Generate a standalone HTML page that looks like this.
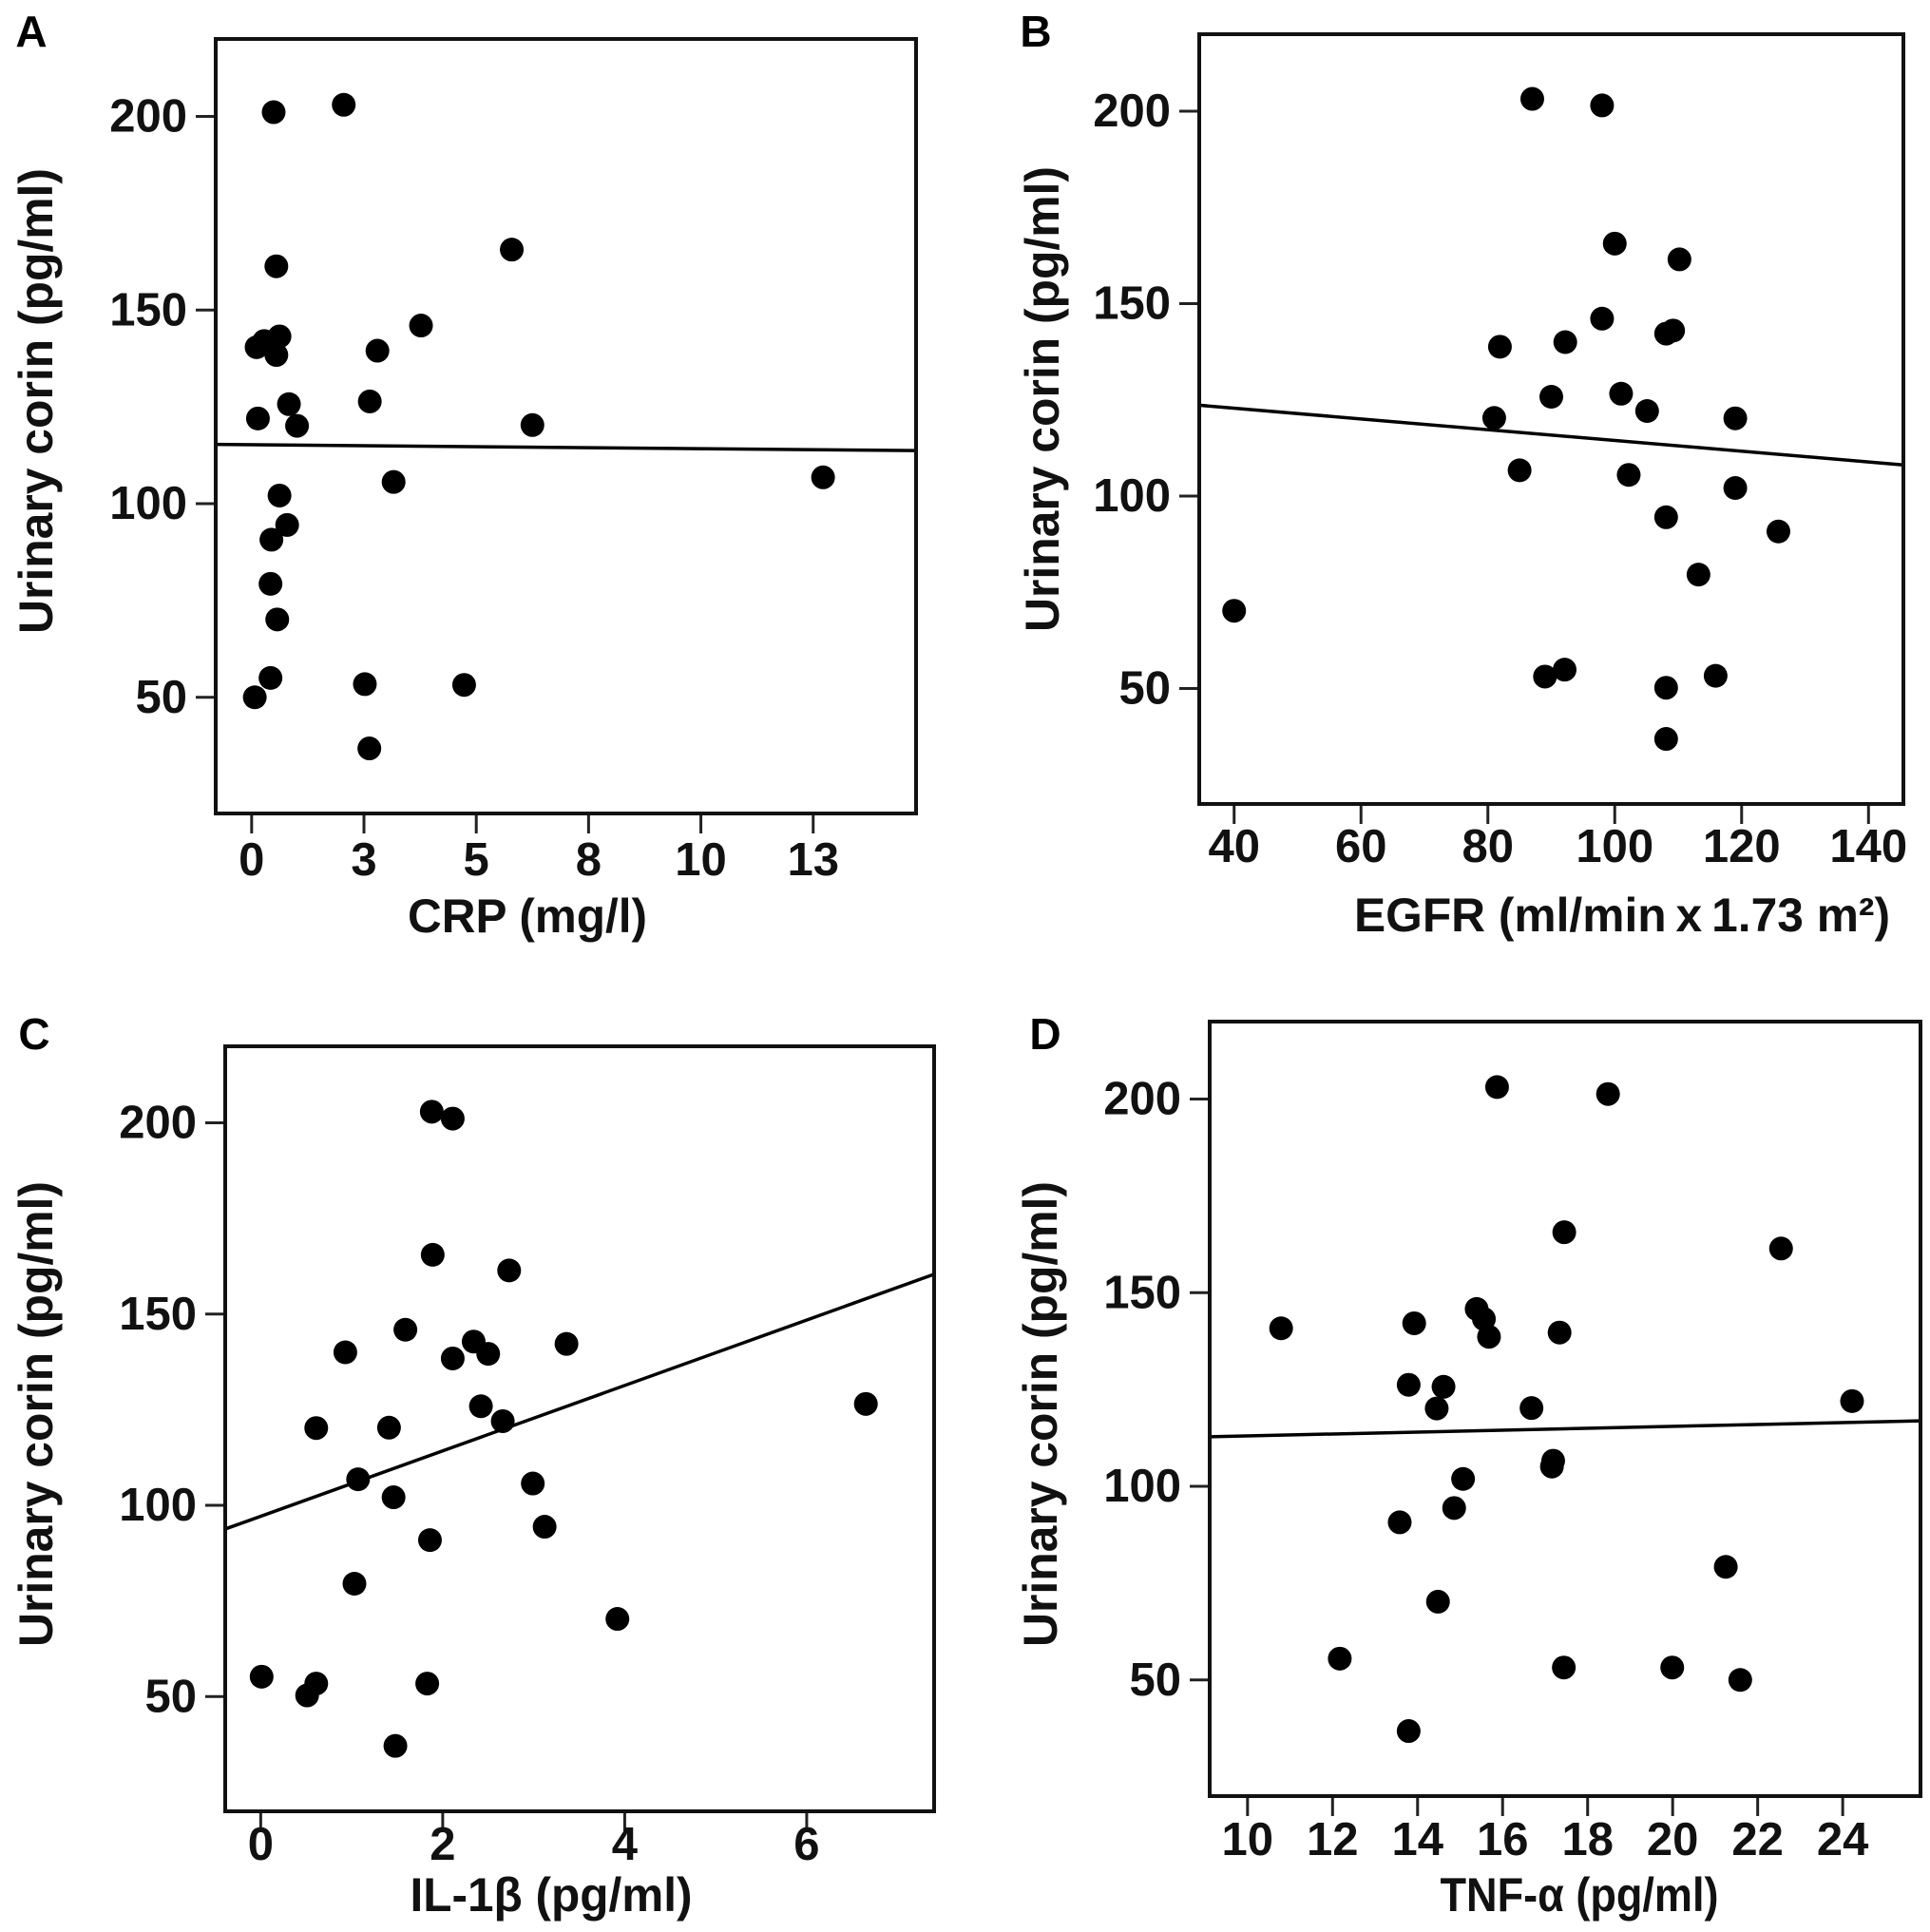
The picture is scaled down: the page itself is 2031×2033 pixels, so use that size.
<!DOCTYPE html>
<html><head><meta charset="utf-8">
<style>
html,body{margin:0;padding:0;background:#fff;}
svg{display:block;font-family:"Liberation Sans",Arial,sans-serif;font-weight:bold;}
</style></head>
<body>
<svg id="fig" width="2031" height="2033" viewBox="0 0 2031 2033" xmlns="http://www.w3.org/2000/svg"></svg>
<script>
const yTickValues = [50, 100, 150, 200];
const yTickLabels = ["50", "100", "150", "200"];

// Panel A: CRP
const crpX = [0.49,2.05,5.79,0.55,3.77,0.11,0.28,0.62,0.55,2.8,2.63,0.83,0.14,1.01,6.25,3.16,12.72,0.62,0.79,0.44,0.42,0.57,0.42,0.07,2.52,4.73,2.62];
const crpY = [201.1,203,165.6,161.3,146,140.4,142,143.2,138.4,139.5,126.4,125.7,122,120.1,120.3,105.6,106.8,102.1,94.5,90.7,79.3,70.1,55,50,53.4,53.2,36.8];
const crpTickValues = [0,2.5,5,7.5,10,12.5];
const crpTickLabels = ["0","3","5","8","10","13"];
const crpFit = [115.3, 113.7];

// Panel B: EGFR
const egfrX = [40,81,81.9,85,87,89,90,92.2,92.1,98,98,100,101,102.2,105.1,108.1,109.2,110.2,108.1,113.2,108.1,108.1,115.9,119,119,125.8];
const egfrY = [70.2,120.3,138.8,106.7,203.2,53.1,125.8,140,54.9,146.1,201.5,165.6,126.6,105.5,122.1,142.2,143,161.5,94.5,79.6,50.2,36.9,53.3,120.2,102.1,90.8];
const egfrTickValues = [40,60,80,100,120,140];
const egfrTickLabels = ["40","60","80","100","120","140"];
const egfrFit = [123.6, 108.1];

// Panel C: IL-1β
const ilX = [0.01,0.51,0.61,0.61,0.93,1.07,1.03,1.41,1.46,1.48,1.59,1.88,1.89,1.86,1.83,2.11,2.11,2.34,2.5,2.42,2.66,2.73,2.99,3.12,3.36,3.92,6.65];
const ilY = [55.2,50.3,53.4,120.2,140,106.8,79.5,120.3,102.1,37.1,145.9,202.9,165.5,90.9,53.4,201.1,138.4,142.8,139.6,125.9,122,161.4,105.7,94.4,142.2,70.3,126.5];
const ilTickValues = [0,2,4,6];
const ilTickLabels = ["0","2","4","6"];
const ilFit = [93.8, 160.4];

// Panel D: TNF-α
const tnfX = [10.79,12.17,13.79,13.92,13.58,13.79,14.45,14.61,14.48,14.86,15.07,15.39,15.56,15.68,15.87,16.68,17.19,17.16,17.34,17.45,17.44,18.48,19.99,21.25,21.59,22.55,24.22];
const tnfY = [140.8,55.5,126.2,142.1,90.7,36.8,120.1,125.7,70.2,94.4,101.9,145.8,143.2,138.6,203.1,120.2,106.6,105.1,139.7,165.6,53.2,201.3,53.2,79.2,50,161.4,122];
const tnfTickValues = [10,12,14,16,18,20,22,24];
const tnfTickLabels = ["10","12","14","16","18","20","22","24"];
const tnfFit = [112.8, 116.9];

const NS = "http://www.w3.org/2000/svg";
const svg = document.getElementById('fig');
function mk(tag, attrs, parent){
  const e = document.createElementNS(NS, tag);
  for (const k in attrs) e.setAttribute(k, attrs[k]);
  (parent||svg).appendChild(e);
  return e;
}

function panel(cfg){
  const g = mk('g', {});
  
  
  const L=cfg.L,T=cfg.T,R=cfg.R,B=cfg.B;
  const sx = v => L + (v - cfg.xmin) / (cfg.xmax - cfg.xmin) * (R - L);
  const sy = v => B - (v - 20) / (220 - 20) * (B - T);

  const lt = mk('text', {x:cfg.letter[0], y:cfg.letter[1], 'font-size':46, 'text-anchor':'middle', 'dominant-baseline':'central'}, g);
  lt.textContent = cfg.id;
  
  

  yTickValues.forEach((v,i)=>{
    const y = sy(v);
    const t = mk('line', {x1:L-21, x2:L, y1:y, y2:y, stroke:'#222', 'stroke-width':3}, g);
    
    
    const tx = mk('text', {x:L-30, y:y, 'font-size':49, 'text-anchor':'end', 'dominant-baseline':'central', fill:'#111'}, g);
    tx.textContent = yTickLabels[i];
    
    
  });
  cfg.xt.forEach((v,i)=>{
    const x = sx(v);
    const t = mk('line', {x1:x, x2:x, y1:B, y2:B+21, stroke:'#222', 'stroke-width':3}, g);
    
    
    const tx = mk('text', {x:x, y:B+cfg.tickDy, 'font-size':49, 'text-anchor':'middle', 'dominant-baseline':'central', fill:'#111'}, g);
    tx.textContent = cfg.xl[i];
    
    
  });
  const xt = mk('text', {x:cfg.xTitle[0], y:cfg.xTitle[1], 'font-size':50, 'text-anchor':'middle', 'dominant-baseline':'central', fill:'#111', textLength:cfg.xLen, lengthAdjust:'spacingAndGlyphs'}, g);
  xt.textContent = cfg.xTitleText;
  
  
  const yt = mk('text', {x:0, y:0, 'font-size':50, 'text-anchor':'middle', 'dominant-baseline':'central', fill:'#111', textLength:490, lengthAdjust:'spacingAndGlyphs', transform:'translate('+cfg.yTitle[0]+','+cfg.yTitle[1]+') rotate(-90)'}, g);
  yt.textContent = 'Urinary corin (pg/ml)';
  
  

  cfg.xs.forEach((v,i)=>{
    const c = mk('circle', {cx:sx(v), cy:sy(cfg.ys[i]), r:12.5, fill:'#000'}, g);
    
    
  });
  const fl = mk('line', {x1:L, y1:sy(cfg.fit[0]), x2:R, y2:sy(cfg.fit[1]), stroke:'#000', 'stroke-width':3.5}, g);
  
  
  const fr = mk('rect', {x:L, y:T, width:R-L, height:B-T, fill:'none', stroke:'#111', 'stroke-width':4}, g);
  
  
}

panel({id:'A', L:227,T:41,R:964,B:856, xmin:-0.80, xmax:14.79, xs:crpX, ys:crpY, xt:crpTickValues, xl:crpTickLabels, fit:crpFit,
  tickDy:49, xTitle:[555,964], xLen:252, xTitleText:'CRP (mg/l)', yTitle:[38,422], letter:[33,33]});
panel({id:'B', L:1262,T:36,R:2003,B:846, xmin:34.5, xmax:145.5, xs:egfrX, ys:egfrY, xt:egfrTickValues, xl:egfrTickLabels, fit:egfrFit,
  tickDy:45, xTitle:[1707,963], xLen:564, xTitleText:'EGFR  (ml/min\u2009x\u20091.73 m\u00b2)', yTitle:[1097,420], letter:[1090,33]});
panel({id:'C', L:237,T:1101,R:983,B:1906, xmin:-0.39, xmax:7.40, xs:ilX, ys:ilY, xt:ilTickValues, xl:ilTickLabels, fit:ilFit,
  tickDy:35, xTitle:[580,1994], xLen:297, xTitleText:'IL-1\u03b2 (pg/ml)', yTitle:[38,1488], letter:[36,1088]});
panel({id:'D', L:1273,T:1075,R:2021,B:1890, xmin:9.11, xmax:25.83, xs:tnfX, ys:tnfY, xt:tnfTickValues, xl:tnfTickLabels, fit:tnfFit,
  tickDy:46, xTitle:[1662,1994], xLen:293, xTitleText:'TNF-\u03b1 (pg/ml)', yTitle:[1095,1488], letter:[1100,1088]});
</script>
</body></html>
